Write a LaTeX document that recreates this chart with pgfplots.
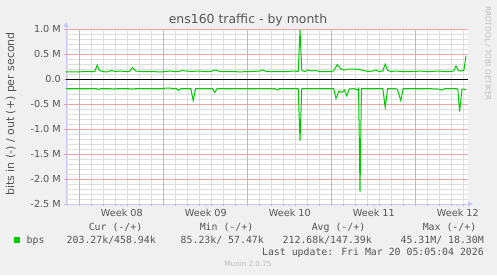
\documentclass[border=0pt]{standalone}
\usepackage{pgfplots}
\pgfplotsset{compat=1.18}
\usepackage{fontspec}
\setmainfont{DejaVu Sans}
\newfontfamily\monofont{DejaVu Sans Mono}
\usetikzlibrary{arrows.meta}
\definecolor{bgc}{HTML}{F0F0F0}
\definecolor{txt}{HTML}{555555}
\definecolor{axc}{HTML}{C8C8F8}
\definecolor{mgrid}{RGB}{236,165,165}
\definecolor{ngrid}{RGB}{222,222,222}
\definecolor{lgreen}{RGB}{0,204,0}
\begin{document}
\begin{tikzpicture}[x=1bp,y=1bp]
\fill[bgc] (0,0) rectangle (497,275);
\useasboundingbox (0,0) rectangle (497,275);
\begin{axis}[
  at={(66bp,71bp)}, anchor=south west,
  scale only axis, width=402bp, height=175bp,
  xmin=0, xmax=33.5, ymin=-2.5, ymax=1.0,
  axis background/.style={fill=white},
  axis x line*=bottom, axis y line*=left,
  axis line style={draw=axc, line width=0.8bp},
  x axis line style={-{Triangle[length=5bp,width=5bp]}, shorten >=-5bp},
  y axis line style={-{Triangle[length=5bp,width=5bp]}, shorten >=-7bp},
  ytick={-2.5,-2,-1.5,-1,-0.5,0,0.5,1},
  yticklabels={-2.5 M,-2.0 M,-1.5 M,-1.0 M,-0.5 M,0.0,0.5 M,1.0 M},
  xtick={4.65,11.65,18.65,25.65,32.65},
  xticklabels={Week 08,Week 09,Week 10,Week 11,Week 12},
  minor xtick={0.12,1.12,2.12,3.12,4.12,5.12,6.12,7.12,8.12,9.12,10.12,11.12,12.12,13.12,14.12,15.12,16.12,17.12,18.12,19.12,20.12,21.12,22.12,23.12,24.12,25.12,26.12,27.12,28.12,29.12,30.12,31.12,32.12,33.12},
  grid=none,
  tick align=outside,
  major tick length=2bp, minor tick length=2bp,
  tick style={draw=mgrid, line width=0.8bp},
  yticklabel style={font=\fontsize{9.7}{11}\selectfont, text=txt, inner sep=0pt, anchor=east, xshift=-3bp},
  xticklabel style={font=\fontsize{9.7}{11}\selectfont, text=txt, inner sep=0pt, anchor=north, yshift=-3bp},
  clip=false,
]
% grid lines (decoration)
\pgfplotsinvokeforeach{-2.4,-2.3,-2.2,-2.1,-1.9,-1.8,-1.7,-1.6,-1.4,-1.3,-1.2,-1.1,-0.9,-0.8,-0.7,-0.6,-0.4,-0.3,-0.2,-0.1,0.1,0.2,0.3,0.4,0.6,0.7,0.8,0.9}{
  \draw[ngrid, line width=0.9bp] (axis cs:0,#1) -- (axis cs:33.5,#1);
}
\pgfplotsinvokeforeach{0.12,2.12,3.12,4.12,5.12,6.12,7.12,9.12,10.12,11.12,12.12,13.12,14.12,16.12,17.12,18.12,19.12,20.12,21.12,23.12,24.12,25.12,26.12,27.12,28.12,30.12,31.12,32.12,33.12}{
  \draw[ngrid, line width=0.9bp] (axis cs:#1,-2.5) -- (axis cs:#1,1.0);
}
\pgfplotsinvokeforeach{-2,-1.5,-1,-0.5,0.5,1.0}{
  \draw[mgrid, line width=0.9bp] (axis cs:0,#1) -- (axis cs:33.5,#1);
}
\pgfplotsinvokeforeach{1.12,8.12,15.12,22.12,29.12}{
  \draw[mgrid, line width=0.9bp] (axis cs:#1,-2.5) -- (axis cs:#1,1.0);
}
\addplot[black, line width=0.9bp] coordinates {(0,0) (33.5,0)};
% out (+)
\addplot[lgreen, line width=1bp, sharp plot] coordinates {
(0,0.14) (0.5,0.145) (1,0.14) (1.5,0.15) (2,0.145) (2.4,0.15) (2.6,0.28) (2.75,0.18) (2.9,0.16) (3.1,0.15) (3.4,0.14) (3.8,0.17) (4.1,0.15) (4.5,0.16) (4.9,0.15) (5.3,0.15) (5.55,0.23) (5.8,0.16) (6.2,0.15) (6.8,0.15) (7.3,0.15) (7.8,0.14) (8.3,0.15) (8.7,0.16) (9.0,0.15) (9.4,0.15) (9.7,0.17) (10.0,0.16) (10.5,0.15) (11,0.16) (11.5,0.15) (12.0,0.15) (12.5,0.18) (12.8,0.15) (13.5,0.15) (14,0.15) (14.5,0.14) (15,0.15) (15.5,0.15) (16.2,0.16) (16.4,0.18) (16.7,0.15) (17,0.15) (17.5,0.15) (18,0.15) (18.5,0.15) (19,0.16) (19.35,0.15) (19.5,0.98) (19.65,0.17) (19.9,0.15) (20.2,0.18) (20.5,0.16) (20.8,0.17) (21.1,0.15) (21.5,0.15) (22.0,0.15) (22.3,0.16) (22.6,0.29) (22.9,0.2) (23.2,0.18) (23.6,0.2) (24.0,0.2) (24.4,0.19) (24.8,0.17) (25.2,0.15) (25.6,0.16) (25.8,0.18) (26.1,0.15) (26.4,0.16) (26.6,0.3) (26.8,0.17) (27.1,0.15) (27.5,0.16) (28,0.15) (28.5,0.15) (29,0.15) (29.5,0.16) (30,0.15) (30.5,0.15) (31,0.16) (31.5,0.15) (32,0.15) (32.3,0.16) (32.5,0.26) (32.7,0.17) (33,0.16) (33.15,0.17) (33.33,0.46)
};
% in (-)
\addplot[lgreen, line width=1bp, sharp plot] coordinates {
(0,-0.19) (0.5,-0.19) (1,-0.19) (1.5,-0.19) (2,-0.19) (2.5,-0.19) (2.7,-0.21) (2.9,-0.19) (3.5,-0.19) (4,-0.2) (4.5,-0.19) (5,-0.19) (5.5,-0.2) (6,-0.19) (7,-0.19) (8,-0.19) (8.5,-0.18) (9,-0.19) (9.2,-0.19) (9.36,-0.23) (9.6,-0.19) (10.4,-0.19) (10.6,-0.43) (10.8,-0.19) (11.5,-0.19) (12.2,-0.19) (12.4,-0.27) (12.6,-0.19) (13.5,-0.19) (14.5,-0.19) (15.5,-0.19) (16.5,-0.19) (17.4,-0.19) (17.6,-0.22) (17.8,-0.19) (18.5,-0.19) (19.35,-0.19) (19.5,-1.23) (19.65,-0.19) (20.5,-0.19) (21.5,-0.19) (22.3,-0.19) (22.5,-0.39) (22.75,-0.24) (23.0,-0.27) (23.2,-0.22) (23.4,-0.34) (23.6,-0.2) (24.0,-0.19) (24.3,-0.22) (24.38,-0.19) (24.5,-2.25) (24.62,-0.19) (25.5,-0.19) (26.4,-0.19) (26.6,-0.57) (26.8,-0.19) (27.3,-0.19) (27.6,-0.2) (27.9,-0.43) (28.1,-0.19) (29,-0.19) (30,-0.19) (31,-0.2) (31.3,-0.22) (31.6,-0.19) (32.5,-0.19) (32.65,-0.2) (32.8,-0.65) (33.0,-0.2) (33.33,-0.21)
};
\end{axis}
% title
\node[anchor=base, inner sep=0pt, text=txt, font=\fontsize{12.5}{14}\selectfont] at (248,252) {ens160 traffic - by month};
% y label
\node[rotate=90, inner sep=0pt, text=txt, font=\fontsize{11}{13}\selectfont] at (11,161) {bits in (-) / out (+) per second};
% watermark
\node[rotate=-90, inner sep=0pt, text={rgb,255:red,190;green,190;blue,190}, font=\fontsize{7.4}{9}\selectfont] at (488,221.5) {RRDTOOL / TOBI OETIKER};
% legend
\fill[lgreen] (14,32.5) rectangle (19.5,38);
\begin{scope}[every node/.style={inner sep=0pt, text=txt, font=\monofont\fontsize{9.9}{11}\selectfont}]
\node[anchor=base west] at (26.5,31.5) {bps};
\node[anchor=base] at (115.5,44.5) {Cur (-/+)};
\node[anchor=base] at (226.5,44.5) {Min (-/+)};
\node[anchor=base] at (338.5,44.5) {Avg (-/+)};
\node[anchor=base] at (449.5,44.5) {Max (-/+)};
\node[anchor=base west] at (66.5,31.5) {203.27k/458.94k};
\node[anchor=base west] at (180.5,31.5) {85.23k/ 57.47k};
\node[anchor=base west] at (282.5,31.5) {212.68k/147.39k};
\node[anchor=base east] at (484,31.5) {45.31M/ 18.30M};
\node[anchor=base east] at (484,20) {Last update: Fri Mar 20 05:05:04 2026};
\end{scope}
\node[anchor=base, inner sep=0pt, text={rgb,255:red,190;green,190;blue,190}, font=\fontsize{7.2}{9}\selectfont] at (248,8.3) {Munin 2.0.75};
\end{tikzpicture}
\end{document}
